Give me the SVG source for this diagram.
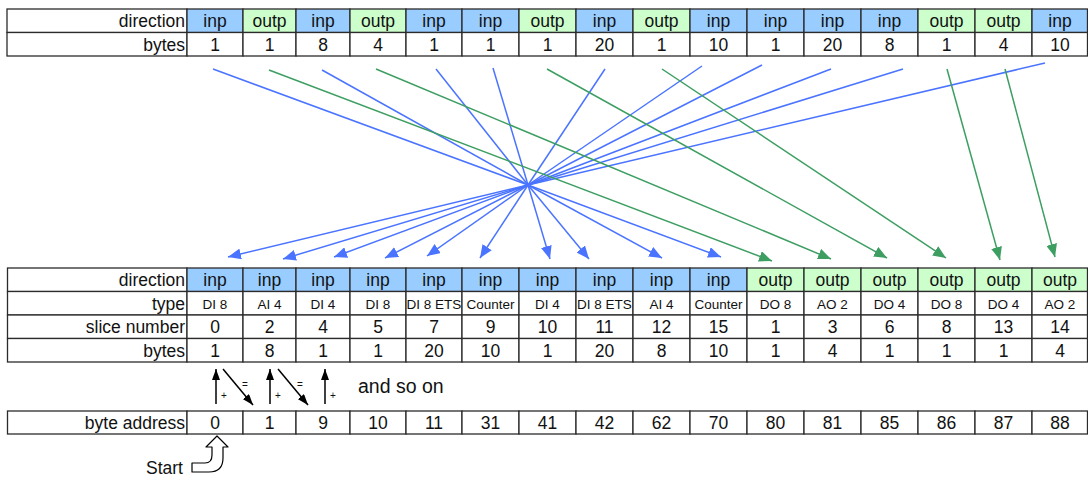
<svg xmlns="http://www.w3.org/2000/svg" width="1088" height="479" viewBox="0 0 1088 479">
  <style>
    rect { stroke: #2b2b2b; stroke-width: 1.3; }
    .w { fill: #ffffff; }
    .inp { fill: #99ccff; }
    .outp { fill: #ccffcc; }
    text { font-family: "Liberation Sans", Arial, sans-serif; font-size: 17.5px; fill: #111; text-anchor: middle; }
    .lbl { text-anchor: end; }
    .ty { font-size: 13.5px; }
    .sm { font-size: 10px; }
    .big { font-size: 19.5px; text-anchor: start; }
    .st { text-anchor: start; }
    .blue { stroke: #4a74ff; stroke-width: 1.5; fill: none; }
    .green { stroke: #3d9e62; stroke-width: 1.5; fill: none; }
    .blk { stroke: #000; stroke-width: 1.5; fill: none; }
  </style>
  <defs>
    <marker id="ah-blue" viewBox="0 0 13 11" refX="13" refY="5.5" markerWidth="13" markerHeight="11" markerUnits="userSpaceOnUse" orient="auto">
      <path d="M0,0 L13,5.5 L0,11 z" fill="#4a74ff"/>
    </marker>
    <marker id="ah-green" viewBox="0 0 13 11" refX="13" refY="5.5" markerWidth="13" markerHeight="11" markerUnits="userSpaceOnUse" orient="auto">
      <path d="M0,0 L13,5.5 L0,11 z" fill="#3d9e62"/>
    </marker>
    <marker id="ah-black" viewBox="0 0 11 8" refX="11" refY="4" markerWidth="11" markerHeight="8" markerUnits="userSpaceOnUse" orient="auto">
      <path d="M0,0 L11,4 L0,8 z" fill="#000"/>
    </marker>
  </defs>

  <!-- slice order table: direction and bytes per slice -->
  <g id="top-table">
    <g id="top-labels">
      <rect class="w" x="7" y="9" width="180" height="23.5"/>
      <rect class="w" x="7" y="32.5" width="180" height="23.5"/>
      <text class="lbl" x="185" y="27">direction</text>
      <text class="lbl" x="185" y="50.5">bytes</text>
    </g>
    <g id="top-c1"><rect class="inp" x="187" y="9" width="56" height="23.5"/><rect class="w" x="187" y="32.5" width="56" height="23.5"/><text x="215" y="27">inp</text><text x="215" y="50.5">1</text></g>
    <g id="top-c2"><rect class="outp" x="243" y="9" width="53" height="23.5"/><rect class="w" x="243" y="32.5" width="53" height="23.5"/><text x="269.5" y="27">outp</text><text x="269.5" y="50.5">1</text></g>
    <g id="top-c3"><rect class="inp" x="296" y="9" width="54" height="23.5"/><rect class="w" x="296" y="32.5" width="54" height="23.5"/><text x="323" y="27">inp</text><text x="323" y="50.5">8</text></g>
    <g id="top-c4"><rect class="outp" x="350" y="9" width="56" height="23.5"/><rect class="w" x="350" y="32.5" width="56" height="23.5"/><text x="378" y="27">outp</text><text x="378" y="50.5">4</text></g>
    <g id="top-c5"><rect class="inp" x="406" y="9" width="56" height="23.5"/><rect class="w" x="406" y="32.5" width="56" height="23.5"/><text x="434" y="27">inp</text><text x="434" y="50.5">1</text></g>
    <g id="top-c6"><rect class="inp" x="462" y="9" width="57" height="23.5"/><rect class="w" x="462" y="32.5" width="57" height="23.5"/><text x="490.5" y="27">inp</text><text x="490.5" y="50.5">1</text></g>
    <g id="top-c7"><rect class="outp" x="519" y="9" width="57" height="23.5"/><rect class="w" x="519" y="32.5" width="57" height="23.5"/><text x="547.5" y="27">outp</text><text x="547.5" y="50.5">1</text></g>
    <g id="top-c8"><rect class="inp" x="576" y="9" width="57" height="23.5"/><rect class="w" x="576" y="32.5" width="57" height="23.5"/><text x="604.5" y="27">inp</text><text x="604.5" y="50.5">20</text></g>
    <g id="top-c9"><rect class="outp" x="633" y="9" width="57" height="23.5"/><rect class="w" x="633" y="32.5" width="57" height="23.5"/><text x="661.5" y="27">outp</text><text x="661.5" y="50.5">1</text></g>
    <g id="top-c10"><rect class="inp" x="690" y="9" width="57" height="23.5"/><rect class="w" x="690" y="32.5" width="57" height="23.5"/><text x="718.5" y="27">inp</text><text x="718.5" y="50.5">10</text></g>
    <g id="top-c11"><rect class="inp" x="747" y="9" width="57" height="23.5"/><rect class="w" x="747" y="32.5" width="57" height="23.5"/><text x="775.5" y="27">inp</text><text x="775.5" y="50.5">1</text></g>
    <g id="top-c12"><rect class="inp" x="804" y="9" width="57" height="23.5"/><rect class="w" x="804" y="32.5" width="57" height="23.5"/><text x="832.5" y="27">inp</text><text x="832.5" y="50.5">20</text></g>
    <g id="top-c13"><rect class="inp" x="861" y="9" width="57" height="23.5"/><rect class="w" x="861" y="32.5" width="57" height="23.5"/><text x="889.5" y="27">inp</text><text x="889.5" y="50.5">8</text></g>
    <g id="top-c14"><rect class="outp" x="918" y="9" width="57" height="23.5"/><rect class="w" x="918" y="32.5" width="57" height="23.5"/><text x="946.5" y="27">outp</text><text x="946.5" y="50.5">1</text></g>
    <g id="top-c15"><rect class="outp" x="975" y="9" width="57" height="23.5"/><rect class="w" x="975" y="32.5" width="57" height="23.5"/><text x="1003.5" y="27">outp</text><text x="1003.5" y="50.5">4</text></g>
    <g id="top-c16"><rect class="inp" x="1032" y="9" width="55.5" height="23.5"/><rect class="w" x="1032" y="32.5" width="55.5" height="23.5"/><text x="1060" y="27">inp</text><text x="1060" y="50.5">10</text></g>
  </g>

  <!-- connectors: inputs through a common crossing point, outputs straight -->
  <g id="connectors">
    <g id="inputs-in">
      <polyline class="blue" points="213,69 528,185"/>
      <polyline class="blue" points="322,70 528,185"/>
      <polyline class="blue" points="436,69 528,185"/>
      <polyline class="blue" points="493,68 528,185"/>
      <polyline class="blue" points="605,69 528,185"/>
      <polyline class="blue" points="702,66 528,185"/>
      <polyline class="blue" points="762,65 528,185"/>
      <polyline class="blue" points="831,69 528,185"/>
      <polyline class="blue" points="903,69 528,185"/>
      <polyline class="blue" points="1045,63 528,185"/>
    </g>
    <g id="inputs-out">
      <line class="blue" x1="528" y1="185" x2="228" y2="257" marker-end="url(#ah-blue)"/>
      <line class="blue" x1="528" y1="185" x2="283" y2="259" marker-end="url(#ah-blue)"/>
      <line class="blue" x1="528" y1="185" x2="334" y2="257" marker-end="url(#ah-blue)"/>
      <line class="blue" x1="528" y1="185" x2="385" y2="258" marker-end="url(#ah-blue)"/>
      <line class="blue" x1="528" y1="185" x2="427" y2="256" marker-end="url(#ah-blue)"/>
      <line class="blue" x1="528" y1="185" x2="480" y2="258" marker-end="url(#ah-blue)"/>
      <line class="blue" x1="528" y1="185" x2="550" y2="259" marker-end="url(#ah-blue)"/>
      <line class="blue" x1="528" y1="185" x2="589" y2="259" marker-end="url(#ah-blue)"/>
      <line class="blue" x1="528" y1="185" x2="662" y2="258" marker-end="url(#ah-blue)"/>
      <line class="blue" x1="528" y1="185" x2="721" y2="257" marker-end="url(#ah-blue)"/>
    </g>
    <g id="outputs">
      <line class="green" x1="269" y1="70" x2="772" y2="261" marker-end="url(#ah-green)"/>
      <line class="green" x1="376" y1="69" x2="831" y2="259" marker-end="url(#ah-green)"/>
      <line class="green" x1="547" y1="69" x2="887" y2="258" marker-end="url(#ah-green)"/>
      <line class="green" x1="662" y1="69" x2="946" y2="258" marker-end="url(#ah-green)"/>
      <line class="green" x1="947" y1="69" x2="1000" y2="260" marker-end="url(#ah-green)"/>
      <line class="green" x1="1005" y1="69" x2="1055" y2="257" marker-end="url(#ah-green)"/>
    </g>
    <g id="address-steps">
      <line class="blk" x1="216" y1="404" x2="216" y2="369" marker-end="url(#ah-black)"/>
      <line class="blk" x1="223" y1="369" x2="253" y2="405" marker-end="url(#ah-black)"/>
      <line class="blk" x1="270" y1="404" x2="270" y2="369" marker-end="url(#ah-black)"/>
      <line class="blk" x1="278" y1="369" x2="308" y2="405" marker-end="url(#ah-black)"/>
      <line class="blk" x1="325" y1="404" x2="325" y2="369" marker-end="url(#ah-black)"/>
    </g>
  </g>

  <!-- sorted table: inputs first, then outputs -->
  <g id="bottom-table">
    <g id="bot-labels">
      <rect class="w" x="7.5" y="268" width="179.5" height="23.5"/>
      <rect class="w" x="7.5" y="291.5" width="179.5" height="23.5"/>
      <rect class="w" x="7.5" y="315" width="179.5" height="23.5"/>
      <rect class="w" x="7.5" y="338.5" width="179.5" height="23.5"/>
      <text class="lbl" x="185" y="286">direction</text>
      <text class="lbl" x="185" y="309.5">type</text>
      <text class="lbl" x="185" y="333">slice number</text>
      <text class="lbl" x="185" y="356.5">bytes</text>
    </g>
    <g id="bot-c1"><rect class="inp" x="187" y="268" width="56" height="23.5"/><rect class="w" x="187" y="291.5" width="56" height="23.5"/><rect class="w" x="187" y="315" width="56" height="23.5"/><rect class="w" x="187" y="338.5" width="56" height="23.5"/><text x="215" y="286">inp</text><text class="ty" x="215" y="308.5">DI 8</text><text x="215" y="333">0</text><text x="215" y="356.5">1</text></g>
    <g id="bot-c2"><rect class="inp" x="243" y="268" width="53" height="23.5"/><rect class="w" x="243" y="291.5" width="53" height="23.5"/><rect class="w" x="243" y="315" width="53" height="23.5"/><rect class="w" x="243" y="338.5" width="53" height="23.5"/><text x="269.5" y="286">inp</text><text class="ty" x="269.5" y="308.5">AI 4</text><text x="269.5" y="333">2</text><text x="269.5" y="356.5">8</text></g>
    <g id="bot-c3"><rect class="inp" x="296" y="268" width="54" height="23.5"/><rect class="w" x="296" y="291.5" width="54" height="23.5"/><rect class="w" x="296" y="315" width="54" height="23.5"/><rect class="w" x="296" y="338.5" width="54" height="23.5"/><text x="323" y="286">inp</text><text class="ty" x="323" y="308.5">DI 4</text><text x="323" y="333">4</text><text x="323" y="356.5">1</text></g>
    <g id="bot-c4"><rect class="inp" x="350" y="268" width="56" height="23.5"/><rect class="w" x="350" y="291.5" width="56" height="23.5"/><rect class="w" x="350" y="315" width="56" height="23.5"/><rect class="w" x="350" y="338.5" width="56" height="23.5"/><text x="378" y="286">inp</text><text class="ty" x="378" y="308.5">DI 8</text><text x="378" y="333">5</text><text x="378" y="356.5">1</text></g>
    <g id="bot-c5"><rect class="inp" x="406" y="268" width="56" height="23.5"/><rect class="w" x="406" y="291.5" width="56" height="23.5"/><rect class="w" x="406" y="315" width="56" height="23.5"/><rect class="w" x="406" y="338.5" width="56" height="23.5"/><text x="434" y="286">inp</text><text class="ty" x="434" y="308.5">DI 8 ETS</text><text x="434" y="333">7</text><text x="434" y="356.5">20</text></g>
    <g id="bot-c6"><rect class="inp" x="462" y="268" width="57" height="23.5"/><rect class="w" x="462" y="291.5" width="57" height="23.5"/><rect class="w" x="462" y="315" width="57" height="23.5"/><rect class="w" x="462" y="338.5" width="57" height="23.5"/><text x="490.5" y="286">inp</text><text class="ty" x="490.5" y="308.5">Counter</text><text x="490.5" y="333">9</text><text x="490.5" y="356.5">10</text></g>
    <g id="bot-c7"><rect class="inp" x="519" y="268" width="57" height="23.5"/><rect class="w" x="519" y="291.5" width="57" height="23.5"/><rect class="w" x="519" y="315" width="57" height="23.5"/><rect class="w" x="519" y="338.5" width="57" height="23.5"/><text x="547.5" y="286">inp</text><text class="ty" x="547.5" y="308.5">DI 4</text><text x="547.5" y="333">10</text><text x="547.5" y="356.5">1</text></g>
    <g id="bot-c8"><rect class="inp" x="576" y="268" width="57" height="23.5"/><rect class="w" x="576" y="291.5" width="57" height="23.5"/><rect class="w" x="576" y="315" width="57" height="23.5"/><rect class="w" x="576" y="338.5" width="57" height="23.5"/><text x="604.5" y="286">inp</text><text class="ty" x="604.5" y="308.5">DI 8 ETS</text><text x="604.5" y="333">11</text><text x="604.5" y="356.5">20</text></g>
    <g id="bot-c9"><rect class="inp" x="633" y="268" width="57" height="23.5"/><rect class="w" x="633" y="291.5" width="57" height="23.5"/><rect class="w" x="633" y="315" width="57" height="23.5"/><rect class="w" x="633" y="338.5" width="57" height="23.5"/><text x="661.5" y="286">inp</text><text class="ty" x="661.5" y="308.5">AI 4</text><text x="661.5" y="333">12</text><text x="661.5" y="356.5">8</text></g>
    <g id="bot-c10"><rect class="inp" x="690" y="268" width="57" height="23.5"/><rect class="w" x="690" y="291.5" width="57" height="23.5"/><rect class="w" x="690" y="315" width="57" height="23.5"/><rect class="w" x="690" y="338.5" width="57" height="23.5"/><text x="718.5" y="286">inp</text><text class="ty" x="718.5" y="308.5">Counter</text><text x="718.5" y="333">15</text><text x="718.5" y="356.5">10</text></g>
    <g id="bot-c11"><rect class="outp" x="747" y="268" width="57" height="23.5"/><rect class="w" x="747" y="291.5" width="57" height="23.5"/><rect class="w" x="747" y="315" width="57" height="23.5"/><rect class="w" x="747" y="338.5" width="57" height="23.5"/><text x="775.5" y="286">outp</text><text class="ty" x="775.5" y="308.5">DO 8</text><text x="775.5" y="333">1</text><text x="775.5" y="356.5">1</text></g>
    <g id="bot-c12"><rect class="outp" x="804" y="268" width="57" height="23.5"/><rect class="w" x="804" y="291.5" width="57" height="23.5"/><rect class="w" x="804" y="315" width="57" height="23.5"/><rect class="w" x="804" y="338.5" width="57" height="23.5"/><text x="832.5" y="286">outp</text><text class="ty" x="832.5" y="308.5">AO 2</text><text x="832.5" y="333">3</text><text x="832.5" y="356.5">4</text></g>
    <g id="bot-c13"><rect class="outp" x="861" y="268" width="57" height="23.5"/><rect class="w" x="861" y="291.5" width="57" height="23.5"/><rect class="w" x="861" y="315" width="57" height="23.5"/><rect class="w" x="861" y="338.5" width="57" height="23.5"/><text x="889.5" y="286">outp</text><text class="ty" x="889.5" y="308.5">DO 4</text><text x="889.5" y="333">6</text><text x="889.5" y="356.5">1</text></g>
    <g id="bot-c14"><rect class="outp" x="918" y="268" width="57" height="23.5"/><rect class="w" x="918" y="291.5" width="57" height="23.5"/><rect class="w" x="918" y="315" width="57" height="23.5"/><rect class="w" x="918" y="338.5" width="57" height="23.5"/><text x="946.5" y="286">outp</text><text class="ty" x="946.5" y="308.5">DO 8</text><text x="946.5" y="333">8</text><text x="946.5" y="356.5">1</text></g>
    <g id="bot-c15"><rect class="outp" x="975" y="268" width="57" height="23.5"/><rect class="w" x="975" y="291.5" width="57" height="23.5"/><rect class="w" x="975" y="315" width="57" height="23.5"/><rect class="w" x="975" y="338.5" width="57" height="23.5"/><text x="1003.5" y="286">outp</text><text class="ty" x="1003.5" y="308.5">DO 4</text><text x="1003.5" y="333">13</text><text x="1003.5" y="356.5">1</text></g>
    <g id="bot-c16"><rect class="outp" x="1032" y="268" width="55.5" height="23.5"/><rect class="w" x="1032" y="291.5" width="55.5" height="23.5"/><rect class="w" x="1032" y="315" width="55.5" height="23.5"/><rect class="w" x="1032" y="338.5" width="55.5" height="23.5"/><text x="1060" y="286">outp</text><text class="ty" x="1060" y="308.5">AO 2</text><text x="1060" y="333">14</text><text x="1060" y="356.5">4</text></g>
  </g>

  <!-- step labels next to the small arrows -->
  <g id="step-labels">
    <text class="sm" x="224" y="399">+</text>
    <text class="sm" x="245" y="388">=</text>
    <text class="sm" x="278" y="399">+</text>
    <text class="sm" x="300" y="388">=</text>
    <text class="sm" x="333" y="399">+</text>
    <text class="big" x="358" y="393">and so on</text>
  </g>

  <!-- resulting byte addresses -->
  <g id="address-table">
    <rect class="w" x="7.5" y="411" width="179.5" height="23"/>
    <text class="lbl" x="185" y="428.5">byte address</text>
    <rect class="w" x="187" y="411" width="56" height="23"/><text x="215" y="428.5">0</text>
    <rect class="w" x="243" y="411" width="53" height="23"/><text x="269.5" y="428.5">1</text>
    <rect class="w" x="296" y="411" width="54" height="23"/><text x="323" y="428.5">9</text>
    <rect class="w" x="350" y="411" width="56" height="23"/><text x="378" y="428.5">10</text>
    <rect class="w" x="406" y="411" width="56" height="23"/><text x="434" y="428.5">11</text>
    <rect class="w" x="462" y="411" width="57" height="23"/><text x="490.5" y="428.5">31</text>
    <rect class="w" x="519" y="411" width="57" height="23"/><text x="547.5" y="428.5">41</text>
    <rect class="w" x="576" y="411" width="57" height="23"/><text x="604.5" y="428.5">42</text>
    <rect class="w" x="633" y="411" width="57" height="23"/><text x="661.5" y="428.5">62</text>
    <rect class="w" x="690" y="411" width="57" height="23"/><text x="718.5" y="428.5">70</text>
    <rect class="w" x="747" y="411" width="57" height="23"/><text x="775.5" y="428.5">80</text>
    <rect class="w" x="804" y="411" width="57" height="23"/><text x="832.5" y="428.5">81</text>
    <rect class="w" x="861" y="411" width="57" height="23"/><text x="889.5" y="428.5">85</text>
    <rect class="w" x="918" y="411" width="57" height="23"/><text x="946.5" y="428.5">86</text>
    <rect class="w" x="975" y="411" width="57" height="23"/><text x="1003.5" y="428.5">87</text>
    <rect class="w" x="1032" y="411" width="55.5" height="23"/><text x="1060" y="428.5">88</text>
  </g>

  <!-- start marker: bent-up block arrow -->
  <g id="start">
    <path d="M217,436 L228,447 L223,447 L223,458 Q223,472 209,472 L192,472 L192,463 L205,463 Q212,463 212,455 L212,447 L206,447 Z" fill="#fff" stroke="#000" stroke-width="1.2" stroke-linejoin="round"/>
    <text class="st" x="146" y="474">Start</text>
  </g>
</svg>
